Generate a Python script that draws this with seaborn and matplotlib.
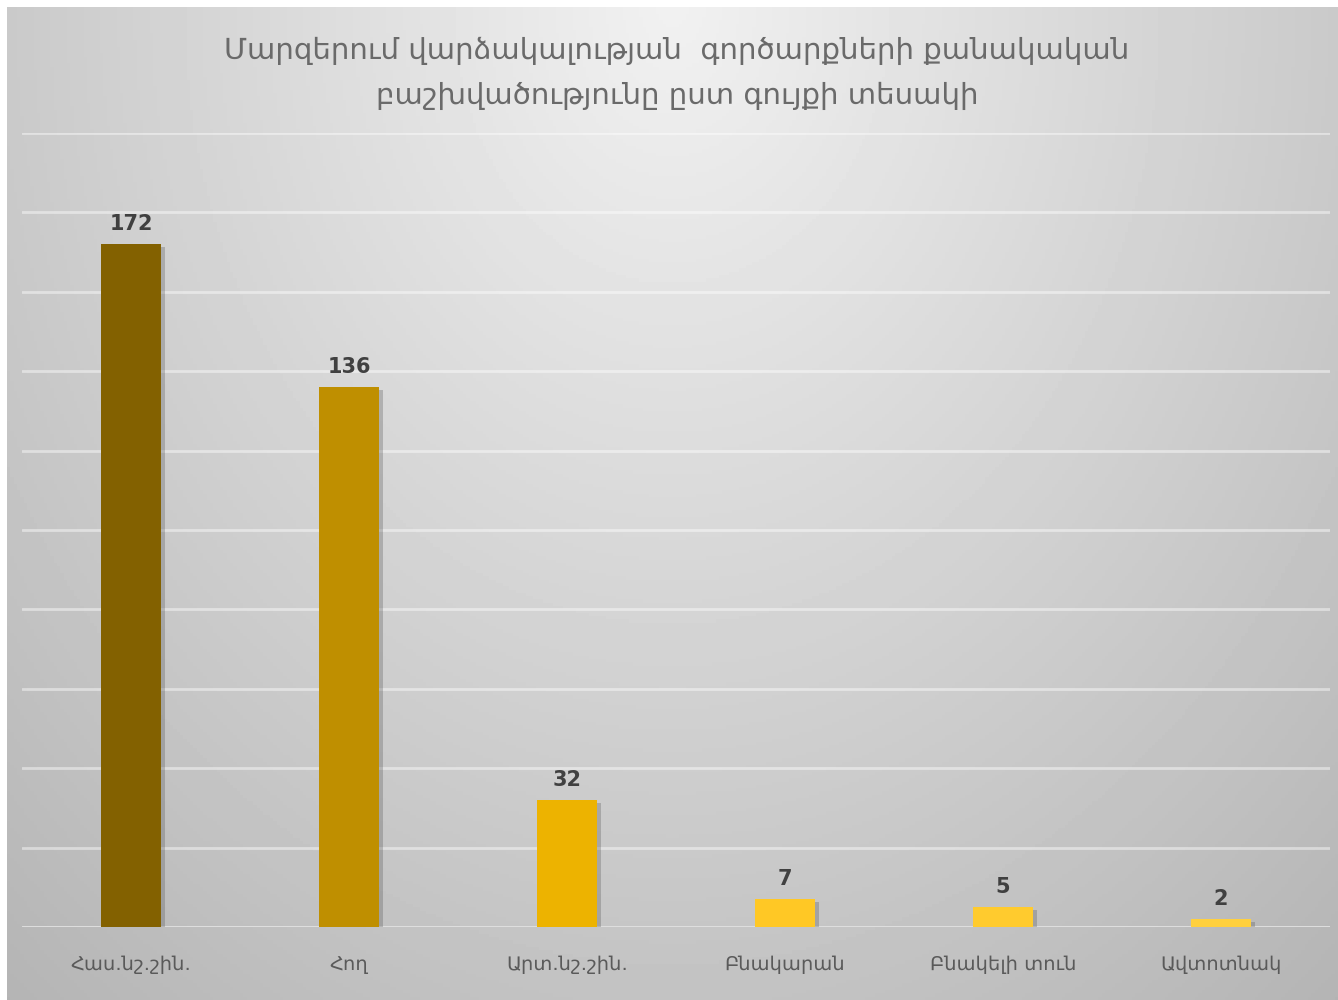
import numpy as np
import pandas as pd
import matplotlib.pyplot as plt
import matplotlib.patheffects as pe
import seaborn as sns

# data
categories = ["Հաս.նշ.շին.", "Հող", "Արտ.նշ.շին.", "Բնակարան", "Բնակելի տուն", "Ավտոտնակ"]
counts = [172, 136, 32, 7, 5, 2]
bar_colors = ["#836100", "#BF8F00", "#EDB300", "#FFC825", "#FFCB2E", "#FFD03E"]
title = "Մարզերում վարձակալության  գործարքների քանակական\nբաշխվածությունը ըստ գույքի տեսակի"

df = pd.DataFrame({"type": categories, "count": counts})

sns.set_style("white")
plt.rcParams["font.family"] = ["DejaVu Sans"]

fig = plt.figure(figsize=(13.38, 10), dpi=100)

# gray gradient background of the chart area
bg = fig.add_axes([7 / 1338, 0, 1 - 7 / 1338, 1 - 7 / 1000])
gx, gy = np.meshgrid(np.linspace(-1, 1, 400), np.linspace(0, 1, 300))
r = np.sqrt((gx / 1.3) ** 2 + (gy / 1.1) ** 2)
shade = 0.945 - 0.2 * np.clip(r, 0, 1.3)
bg.imshow(shade, cmap="gray", vmin=0, vmax=1, aspect="auto", extent=[0, 1, 0, 1], origin="upper")
bg.set_axis_off()

ax = fig.add_axes([22 / 1338, 73 / 1000, 1308 / 1338, 794 / 1000])
ax.patch.set_alpha(0)
sns.barplot(data=df, x="type", y="count", hue="type", palette=bar_colors,
            legend=False, width=0.275, ax=ax, zorder=3, saturation=1, linewidth=0)

for p in ax.patches:
    p.set_path_effects([pe.SimplePatchShadow(offset=(3, -2), shadow_rgbFace="#555555", alpha=0.3),
                        pe.Normal()])

for i, v in enumerate(counts):
    ax.text(i, v + 2.5, str(v), ha="center", va="bottom", fontsize=15,
            fontweight="bold", color="#404040", zorder=4)

ax.set_ylim(0, 200)
ax.set_xlim(-0.5, len(categories) - 0.5)
ax.set_yticks(np.arange(20, 201, 20))
ax.yaxis.grid(True, color="white", linewidth=2, alpha=0.45, zorder=0)
ax.set_yticklabels([])
ax.tick_params(axis="y", length=0)
ax.tick_params(axis="x", length=0, pad=20, labelsize=14, labelcolor="#5a5a5a")
ax.axhline(0, color="#e2e2e2", linewidth=2, zorder=2)
for s in ax.spines.values():
    s.set_visible(False)
ax.set_xlabel("")
ax.set_ylabel("")

fig.text(0.506, 0.927, title, ha="center", va="center", fontsize=21,
         color="#6a6a6a", linespacing=1.75)

fig.savefig("out.png", dpi=100)
